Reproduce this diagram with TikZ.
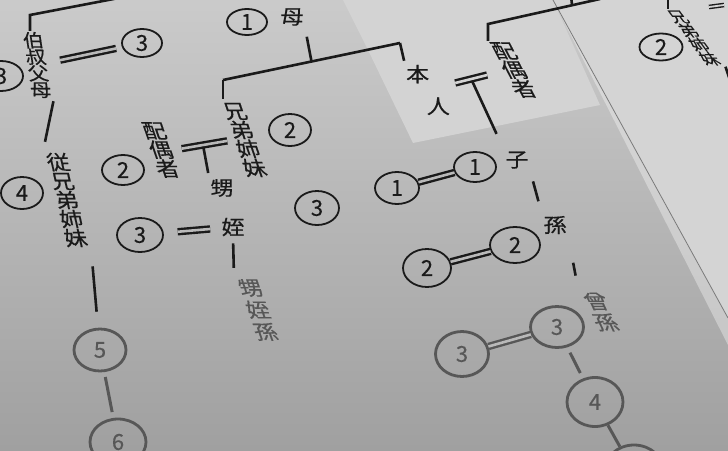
\documentclass[tikz,border=0pt]{standalone}
\usepackage{fontspec}
\usepackage{xcolor}
\usepackage{tikz}
\usetikzlibrary{shapes.geometric,calc}
\newfontfamily\jpfont[FakeBold=0.4]{Noto Sans CJK JP}
\definecolor{ink}{HTML}{1A1A1A}
\definecolor{haze}{HTML}{575757}
\definecolor{paper}{HTML}{B9B9B9}
\definecolor{paperlight}{HTML}{D3D3D3}
\definecolor{paperdark}{HTML}{A0A0A0}
\definecolor{sheet}{HTML}{D4D4D4}
\definecolor{edge}{HTML}{7A7A7A}

\begin{document}
\begin{tikzpicture}[x=1pt,y=-1pt,
    kin/.style={font=\jpfont\fontsize{20}{19}\selectfont, xscale=1.15, align=center, inner sep=1pt, text=ink},
    deg/.style={ellipse, draw=ink, line width=1.8pt, inner sep=0pt,
                minimum width=42pt, minimum height=30pt, text=ink,
                font=\jpfont\fontsize{22}{22}\selectfont},
    far/.style={draw=haze, text=haze, line width=2.8pt},
    link/.style={draw=ink, line width=2.6pt},
    farlink/.style={draw=haze, line width=3pt},
    wed/.style={draw=ink, line width=2.4pt, double=paper, double distance=2.6pt}]
  \useasboundingbox (0,0) rectangle (728,450);
  \clip (0,0) rectangle (728,450);

  % paper sheets
  \shade[top color=paper!75!white, bottom color=paperdark] (0,0) rectangle (728,450);
  \fill[paperlight] (343,0) -- (553,0) -- (600,105) -- (413,143) -- (368,50) -- cycle;
  \fill[sheet] (553,0) -- (728,0) -- (728,318) -- cycle;
  \fill[white, opacity=.35] (553,0) -- (728,318) -- (728,345) -- cycle;
  \draw[edge, line width=.8pt] (553,0) -- (728,318);

  % uncles, cousins
  \node[kin, xslant=-.13, font=\jpfont\fontsize{18}{16.5}\selectfont] (uncle) at (37,65) {伯\\叔\\父\\母};
  \node[deg, minimum width=44pt, minimum height=30pt] (d-uncle-l) at (1,76) {3};
  \node[deg, minimum width=40pt, minimum height=28pt] (d-uncle) at (142,43) {3};
  \node[kin, xslant=-.2] (cousin) at (67,200) {従\\兄\\弟\\姉\\妹};
  \node[deg, minimum height=32pt] (d-cousin) at (22,193) {4};
  \node[deg, far, minimum width=52pt, minimum height=42pt] (d-five) at (100,350) {5};
  \node[deg, far, minimum width=56pt, minimum height=46pt] (d-six) at (118,442) {6};

  % parents, siblings
  \node[deg, minimum width=40pt, minimum height=26pt] (d-mother) at (247,22) {1};
  \node[kin] (mother) at (292,17) {母};
  \node[kin, xslant=-.3] (sibling) at (245,140) {兄\\弟\\姉\\妹};
  \node[deg, minimum height=32pt] (d-sibling) at (290,130) {2};
  \node[kin, xslant=-.3] (sib-spouse) at (161,150) {配\\偶\\者};
  \node[deg] (d-sib-spouse) at (123,170) {2};
  \node[kin] (nephew) at (222,188) {甥};
  \node[kin] (niece) at (233,227) {姪};
  \node[deg, minimum width=46pt, minimum height=34pt] (d-niece-spouse) at (140,235) {3};
  \node[deg, minimum width=44pt, minimum height=34pt] (d-nephew) at (317,208) {3};
  \node[kin, xslant=-.3, text=haze, font=\jpfont\fontsize{20}{22}\selectfont] (grandnephew) at (258,310) {甥\\姪\\孫};

  % self, descendants
  \node[kin] (self) at (428,90) {本\hspace*{18pt}\\[13pt]\hspace*{18pt}人};
  \node[kin, xslant=-.45] (spouse) at (514,70) {配\\偶\\者};
  \node[kin] (child) at (517,160) {子};
  \node[deg] (d-child) at (475,167) {1};
  \node[deg, minimum width=44pt, minimum height=32pt] (d-child-spouse) at (397,188) {1};
  \node[kin] (grandchild) at (555,225) {孫};
  \node[deg, minimum width=50pt, minimum height=36pt] (d-grandchild) at (515,245) {2};
  \node[deg, minimum width=48pt, minimum height=38pt] (d-gc-spouse) at (427,268) {2};
  \node[kin, xslant=-.4, text=haze, font=\jpfont\fontsize{20}{21}\selectfont] (ggchild) at (601,312) {曾\\孫};
  \node[deg, far, minimum width=53pt, minimum height=41pt] (d-ggchild) at (557,327) {3};
  \node[deg, far, minimum width=53pt, minimum height=45pt] (d-ggc-spouse) at (462,354) {3};
  \node[deg, far, minimum width=56pt, minimum height=49pt] (d-gggchild) at (595,402) {4};
  \node[deg, far, minimum width=60pt, minimum height=54pt] (d-ggggchild) at (634,472) {};

  % next sheet
  \node[kin, xslant=-.65, font=\jpfont\fontsize{15}{14}\selectfont] (sibling-r) at (694,38) {兄\\弟\\姉\\妹};
  \node[deg, minimum width=43pt, minimum height=27pt] (d-sibling-r) at (661,47) {2};

  \coordinate (uncle-top) at (30,15);
  \coordinate (uncle-bar) at (150,-8);
  \coordinate (sib-top) at (223,80);
  \coordinate (self-top) at (400,43);
  \coordinate (spouse-top) at (488,24);
  \coordinate (spouse-bar) at (600,-1);
  \coordinate (sib-r-top) at (668,-4);
  \coordinate (sib-r-wed) at (724,5);
  \coordinate (sib-r-down) at (734,92);

  % lines
  \draw[link] (uncle-bar) -- (uncle-top) -- (uncle-top |- uncle.north);
  \draw[link, shorten <=2pt, shorten >=10pt] (uncle.south east) -- (cousin.north west);
  \draw[wed, shorten <=12pt, shorten >=6pt] (uncle) -- (d-uncle);
  \draw[link, shorten <=18pt, shorten >=16pt] (cousin.south east) -- (d-five);
  \draw[farlink, shorten <=5pt, shorten >=6pt] (d-five) -- (d-six);

  \draw[link] (sib-top) -- (self-top);
  \draw[link, shorten <=10pt] (mother.south east) -- ($(sib-top)!.5!(self-top)$);
  \draw[link, shorten >=3pt] (sib-top) -- (sib-top |- sibling.north);
  \draw[link, shorten >=3pt] (self-top) -- (self.north west);
  \draw[wed, shorten <=8pt, shorten >=5pt] (sib-spouse.east) -- coordinate[pos=.5] (sib-wed) (sibling.west);
  \draw[link, shorten <=2pt, shorten >=5pt] (sib-wed) -- (nephew.north west);
  \draw[wed, shorten <=14pt, shorten >=10pt] (d-niece-spouse) -- (niece);
  \draw[link, shorten <=6pt, shorten >=10pt] (niece.south) -- (grandnephew.north west);

  \draw[link] (spouse-bar) -- (spouse-top) -- (spouse-top |- spouse.north);
  \draw[link] ($(spouse-top)!.75!(spouse-bar)$) -- ++(-1,-10);
  \draw[wed, double=paperlight] ($(self.east)+(4,-7)$) -- coordinate[pos=.5] (self-wed) ($(spouse.west)+(-14,5)$);
  \draw[link, shorten <=2pt, shorten >=18pt] (self-wed) -- (child.north west);
  \draw[wed] (d-child-spouse) -- (d-child);
  \draw[link, shorten <=12pt, shorten >=14pt] (child.south east) -- (grandchild.north west);
  \draw[wed] (d-gc-spouse) -- (d-grandchild);
  \draw[link, shorten <=28pt, shorten >=16pt] (grandchild.south east) -- (ggchild.north west);
  \draw[wed, draw=haze] (d-ggc-spouse) -- (d-ggchild);
  \draw[farlink, shorten <=6pt, shorten >=6pt] (d-ggchild) -- (d-gggchild);
  \draw[farlink] (d-gggchild) -- (d-ggggchild);

  \draw[link] (sib-r-top) -- (sib-r-top |- sibling-r.north);
  \draw[wed, line width=1.4pt, double=sheet, double distance=1.8pt] (sib-r-wed) -- ++(-15,2);
  \draw[link] (sibling-r.south east) -- (sib-r-down);
\end{tikzpicture}
\end{document}
